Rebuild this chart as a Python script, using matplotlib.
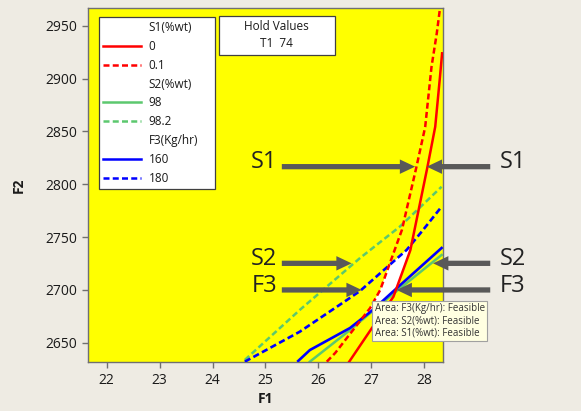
import numpy as np
import matplotlib
matplotlib.use('Agg')
import matplotlib.pyplot as plt
from matplotlib.lines import Line2D
from matplotlib.patches import Rectangle

plt.rcParams['font.family'] = ['Open Sans', 'DejaVu Sans']

# contour lines (F1, F2)
s1_0_x = [26.58, 27.01, 27.42, 27.74, 28.06, 28.21, 28.30, 28.34]
s1_0_y = [2631.7, 2663.6, 2693.5, 2737.6, 2815.6, 2854.4, 2901.7, 2923.9]
s1_01_x = [26.16, 26.32, 26.98, 27.17, 27.58, 27.85, 28.02, 28.14, 28.24, 28.30]
s1_01_y = [2632.0, 2640.3, 2682.8, 2699.9, 2756.7, 2815.3, 2854.1, 2911.2, 2943.1, 2966.5]

s2_98_x = [25.84, 26.60, 27.41, 28.33]
s2_98_y = [2632.0, 2662.0, 2696.0, 2733.0]
s2_982_x = [24.61, 25.65, 26.79, 27.54, 28.33]
s2_982_y = [2633.6, 2681.0, 2730.2, 2759.8, 2797.6]

f3_160_x = [25.62, 25.84, 26.60, 27.03, 27.41, 28.33]
f3_160_y = [2632.7, 2643.0, 2663.9, 2681.0, 2698.3, 2739.6]
f3_180_x = [24.61, 25.65, 26.54, 26.79, 27.67, 27.98, 28.33]
f3_180_y = [2632.0, 2660.4, 2690.4, 2699.0, 2737.8, 2756.7, 2778.7]

x_ticks = [22, 23, 24, 25, 26, 27, 28]
y_ticks = [2650, 2700, 2750, 2800, 2850, 2900, 2950]

hold_names = ['T1']
hold_vals = [74]

# arrows pointing at the contours
arrow_names = ['S1', 'S2', 'F3']
arrow_y = [2816.6, 2725.1, 2699.9]
arrow_left_tip = [27.83, 26.63, 26.82]
arrow_right_tip = [28.05, 28.17, 27.48]

fig = plt.figure(figsize=(5.81, 4.11), dpi=100, facecolor='#EEEBE3')
ax = fig.add_axes([88/581, 49/411, 355/581, 354/411])
ax.set_facecolor('#FFFF00')

# feasible (white) region
xg = np.linspace(26.0, 28.3, 600)
lo = np.nanmax(np.vstack([np.interp(xg, s1_0_x, s1_0_y),
                          np.interp(xg, s2_98_x, s2_98_y),
                          np.interp(xg, f3_160_x, f3_160_y)]), axis=0)
hi = np.nanmin(np.vstack([np.interp(xg, s1_01_x, s1_01_y),
                          np.interp(xg, s2_982_x, s2_982_y),
                          np.interp(xg, f3_180_x, f3_180_y)]), axis=0)
ok = hi > lo
ax.fill_between(xg, lo, hi, where=ok, facecolor='#FFFFFF', edgecolor='none',
                zorder=1.5)

dash = (2.4, 1.3)
green = '#5CC86E'
ax.plot(s2_98_x, s2_98_y, color=green, lw=1.8, zorder=2)
ax.plot(s2_982_x, s2_982_y, color=green, lw=1.8, dashes=dash, zorder=2)
ax.plot(f3_160_x, f3_160_y, color='#0000FF', lw=1.9, zorder=3)
ax.plot(f3_180_x, f3_180_y, color='#0000FF', lw=1.9, dashes=dash, zorder=3)
ax.plot(s1_0_x, s1_0_y, color='#FF0000', lw=1.8, zorder=4)
ax.plot(s1_01_x, s1_01_y, color='#FF0000', lw=1.8, dashes=dash, zorder=4)

ax.set_xlim(21.646, 28.357)
ax.set_ylim(2631.7, 2966.8)
ax.set_xticks(x_ticks)
ax.set_yticks(y_ticks)
ax.tick_params(direction='out', length=4, width=1, color='#707070',
               labelsize=10, labelcolor='#1a1a1a', pad=4)
for sp in ax.spines.values():
    sp.set_color('#707070')
    sp.set_linewidth(1)

ax.set_xlabel('F1', fontsize=10, fontweight='bold', color='#1a1a1a')
ax.set_ylabel('F2', fontsize=10, fontweight='bold', color='#1a1a1a')
ax.xaxis.set_label_coords(0.5, -0.085)
ax.yaxis.set_label_coords(-0.175, 0.5)

# legend
none = Line2D([], [], color='none')
handles = [none,
           Line2D([], [], color='#FF0000', lw=1.8),
           Line2D([], [], color='#FF0000', lw=1.8, dashes=dash),
           none,
           Line2D([], [], color=green, lw=1.8),
           Line2D([], [], color=green, lw=1.8, dashes=dash),
           none,
           Line2D([], [], color='#0000FF', lw=1.8),
           Line2D([], [], color='#0000FF', lw=1.8, dashes=dash)]
labels = ['S1(%wt)', '0', '0.1', 'S2(%wt)', '98', '98.2', 'F3(Kg/hr)', '160', '180']
leg = ax.legend(handles, labels, loc='upper left', mode='expand',
                bbox_to_anchor=(99/581, 1 - 186/411, 116/581, (186 - 16.7)/411),
                bbox_transform=fig.transFigure, borderaxespad=0,
                fontsize=8.5, handlelength=3.2, handletextpad=0.65,
                labelspacing=0.5, borderpad=0.35, fancybox=False,
                framealpha=1, edgecolor='#404040')
leg.get_frame().set_linewidth(0.9)
for t in leg.get_texts():
    t.set_color('#1a1a1a')

# hold values box
ax.add_patch(Rectangle((0.369, 0.867), 0.327, 0.110, transform=ax.transAxes,
                       facecolor='white', edgecolor='#404040', lw=0.9, zorder=6))
ax.text(0.532, 0.949, 'Hold Values', transform=ax.transAxes, ha='center',
        va='center', fontsize=8.5, color='#1a1a1a', zorder=7)
ax.text(0.532, 0.900, '  '.join(f'{n}  {v}' for n, v in zip(hold_names, hold_vals)),
        transform=ax.transAxes, ha='center', va='center', fontsize=8.5,
        color='#1a1a1a', zorder=7)

# arrows with labels
aprops = dict(arrowstyle='simple,head_length=0.55,head_width=0.52,tail_width=0.19',
              mutation_scale=20, color='#595959', lw=0, shrinkA=0, shrinkB=0)
for name, y, lt, rt in zip(arrow_names, arrow_y, arrow_left_tip, arrow_right_tip):
    ax.annotate('', xy=(lt, y), xytext=(25.31, y), arrowprops=aprops,
                annotation_clip=False, zorder=8)
    ax.annotate('', xy=(rt, y), xytext=(29.25, y), arrowprops=aprops,
                annotation_clip=False, zorder=8)
    ax.text(25.22, y - 1.5, name, ha='right', va='baseline', fontsize=17,
            color='#222222', clip_on=False, zorder=8)
    ax.text(29.43, y - 1.5, name, ha='left', va='baseline', fontsize=17,
            color='#222222', clip_on=False, zorder=8)

# tooltip
ax.text(27.07, 2687.5,
        'Area: F3(Kg/hr): Feasible\nArea: S2(%wt): Feasible\nArea: S1(%wt): Feasible',
        fontsize=7, color='#333333', ha='left', va='top', linespacing=1.15,
        bbox=dict(boxstyle='square,pad=0.25', fc='#FFFFE1', ec='#A0A0A0', lw=0.8),
        clip_on=False, zorder=10)

fig.savefig('out.png', dpi=100, facecolor=fig.get_facecolor())
